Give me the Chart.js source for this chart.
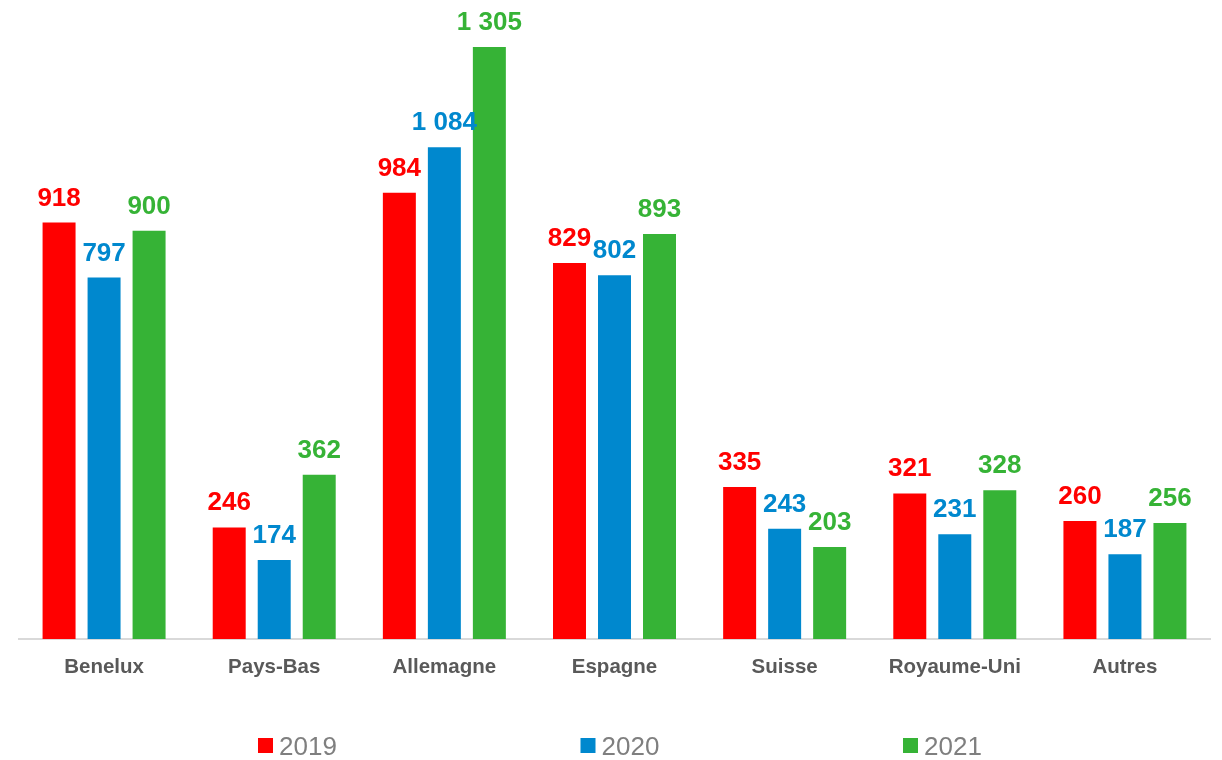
<!DOCTYPE html>
<html>
<head>
<meta charset="utf-8">
<script src="https://cdn.jsdelivr.net/npm/chart.js@4/dist/chart.umd.min.js"></script>
<style>
  html, body { margin: 0; padding: 0; background: #fff; }
</style>
</head>
<body>
<canvas id="myBarChart" width="1222" height="760"></canvas>
<script>
const categories = ['Benelux', 'Pays-Bas', 'Allemagne', 'Espagne', 'Suisse', 'Royaume-Uni', 'Autres']
const years = ['2019', '2020', '2021']
const values2019 = [918, 246, 984, 829, 335, 321, 260]
const values2020 = [797, 174, 1084, 802, 243, 231, 187]
const values2021 = [900, 362, 1305, 893, 203, 328, 256]
const seriesColors = ['#FF0000', '#0088CE', '#36B336']

const FONT = '"Liberation Sans", Arial, sans-serif'

// 1305 -> "1 305"
function formatNumber(v) {
    return String(v).replace(/\B(?=(\d{3})+(?!\d))/g, ' ')
}

const valueLabels = {
    id: 'valueLabels',
    afterDatasetsDraw(chart) {
        const ctx = chart.ctx
        ctx.save()
        ctx.font = 'bold 26px ' + FONT
        ctx.textAlign = 'center'
        ctx.textBaseline = 'alphabetic'
        chart.data.datasets.forEach((ds, i) => {
            chart.getDatasetMeta(i).data.forEach((bar, j) => {
                ctx.fillStyle = ds.backgroundColor
                ctx.fillText(formatNumber(ds.data[j]), bar.x, bar.y - 17)
            })
        })
        ctx.restore()
    }
}

// legend spread out along the bottom like the original
const bottomLegend = {
    id: 'bottomLegend',
    afterDraw(chart) {
        const ctx = chart.ctx
        ctx.save()
        ctx.font = '26px ' + FONT
        ctx.textAlign = 'left'
        ctx.textBaseline = 'alphabetic'
        chart.data.datasets.forEach((ds, i) => {
            const x = 258 + i * 322.5
            ctx.fillStyle = ds.backgroundColor
            ctx.fillRect(x, 738, 15, 15)
            ctx.fillStyle = '#7F7F7F'
            ctx.fillText(ds.label, x + 21, 755)
        })
        ctx.restore()
    }
}

const datasets = [values2019, values2020, values2021].map((vals, i) => ({
    label: years[i],
    data: vals,
    backgroundColor: seriesColors[i],
    borderWidth: 0,
    categoryPercentage: 0.7935,
    barPercentage: 0.733
}))

new Chart(document.querySelector('#myBarChart'), {
    type: 'bar',
    data: { labels: categories, datasets: datasets },
    plugins: [valueLabels, bottomLegend],
    options: {
        responsive: false,
        animation: false,
        devicePixelRatio: 1,
        layout: { padding: { left: 19, right: 12, top: 4, bottom: 0 } },
        plugins: {
            legend: { display: false },
            tooltip: { enabled: false }
        },
        scales: {
            x: {
                grid: { display: false, drawTicks: false },
                border: { color: '#D9D9D9', width: 2 },
                ticks: {
                    color: '#595959',
                    font: { family: FONT, size: 20.5, weight: 'bold' },
                    padding: 16,
                    maxRotation: 0
                },
                afterFit(scale) { scale.height = 121 }
            },
            y: {
                display: false,
                min: 0,
                max: 1400
            }
        }
    }
})
</script>
</body>
</html>
